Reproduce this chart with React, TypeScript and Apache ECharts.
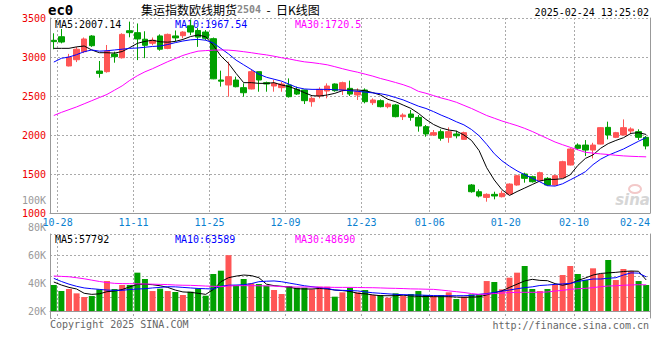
import React, { useEffect, useRef } from 'react';
import * as echarts from 'echarts';

const dates = [
  '10-28','10-29','10-30','10-31','11-01','11-04','11-05','11-06','11-07','11-08',
  '11-11','11-12','11-13','11-14','11-15','11-18','11-19','11-20','11-21','11-22',
  '11-25','11-26','11-27','11-28','11-29','12-02','12-03','12-04','12-05','12-06',
  '12-09','12-10','12-11','12-12','12-13','12-16','12-17','12-18','12-19','12-20',
  '12-23','12-24','12-25','12-26','12-27','12-30','12-31','01-02','01-03',
  '01-06','01-07','01-08','01-09','01-10','01-13','01-14','01-15','01-16','01-17',
  '01-20','01-21','01-22','01-23','01-24','01-27','02-05','02-06','02-07',
  '02-10','02-11','02-12','02-13','02-14','02-17','02-18','02-19','02-20','02-21',
  '02-24'
];
const labeledDates = ['10-28','11-11','11-25','12-09','12-23','01-06','01-20','02-10','02-24'];

const opens = [
  3214,3260,2885,2965,3068,3269,2820,2812,3038,2990,
  3337,3312,3228,3176,3270,3110,3270,3273,3400,3340,
  3320,3235,2705,2641,2705,2607,2590,2812,2671,2628,
  2607,2641,2585,2577,2427,2500,2564,2654,2577,2598,
  2513,2577,2414,2440,2363,2385,2235,2269,2226,2107,
  2000,2043,1970,2013,1944,1359,1273,1200,1239,1209,
  1243,1359,1500,1466,1414,1444,1359,1453,1615,1871,
  1871,1807,1884,2098,1970,2000,2051,2043,1970
];
const closes = [
  3197,3192,2996,3100,3231,3145,2790,3077,3004,3290,
  3312,3231,3150,3215,3100,3290,3245,3320,3320,3255,
  3240,2720,2690,2748,2619,2542,2812,2705,2654,2662,
  2654,2491,2525,2440,2470,2585,2628,2568,2671,2525,
  2555,2427,2449,2363,2397,2235,2256,2226,2115,2013,
  2030,1957,2043,1990,2030,1273,1218,1239,1218,1252,
  1371,1478,1444,1401,1517,1359,1478,1658,1820,1829,
  1807,1871,2094,2000,2030,2094,2077,1970,1859
];
const lows = [
  3099,3175,2880,2935,3050,3130,2735,2799,2927,2980,
  3253,2960,2985,3150,3080,3100,3200,3240,3280,3130,
  3215,2715,2620,2491,2611,2491,2585,2555,2555,2555,
  2555,2480,2513,2397,2363,2470,2470,2555,2513,2500,
  2449,2406,2385,2354,2342,2226,2192,2183,2043,1978,
  1987,1927,1901,1957,1940,1260,1200,1145,1175,1200,
  1240,1350,1389,1390,1410,1350,1355,1450,1610,1807,
  1730,1700,1880,1944,1960,2000,2021,1936,1816
];
const highs = [
  3304,3359,3040,3130,3250,3280,2949,3154,3068,3304,
  3453,3430,3330,3250,3290,3300,3340,3330,3480,3370,
  3345,3250,2825,2940,2748,2662,2842,2812,2684,2705,
  2680,2726,2620,2580,2491,2611,2662,2662,2684,2697,
  2598,2598,2470,2457,2414,2397,2278,2320,2256,2128,
  2064,2073,2098,2055,2043,1371,1303,1252,1273,1286,
  1380,1490,1517,1478,1530,1460,1490,1670,1830,1893,
  1935,1900,2100,2171,2040,2200,2098,2073,1987
];
const ma5 = [
  3111,3111,3111,3130,3141,3090,3055,3055,3050,3070,
  3120,3175,3200,3215,3195,3190,3200,3225,3262,3282,
  3260,3150,3013,2919,2790,2671,2671,2662,2662,2671,
  2641,2620,2585,2543,2504,2500,2513,2534,2568,2577,
  2577,2568,2543,2513,2457,2427,2384,2342,2278,2200,
  2135,2090,2064,2050,2000,1930,1800,1580,1423,1300,
  1225,1275,1320,1365,1410,1431,1431,1440,1490,1610,
  1700,1745,1830,1890,1930,1965,2021,2030,2007
];
const ma10 = [
  2935,2983,3000,3030,3068,3090,3075,3080,3090,3100,
  3111,3115,3125,3135,3141,3160,3184,3205,3220,3226,
  3215,3180,3110,3040,2960,2900,2840,2780,2740,2715,
  2690,2650,2610,2590,2585,2585,2585,2580,2577,2568,
  2560,2550,2540,2530,2510,2480,2450,2410,2370,2340,
  2300,2255,2215,2170,2130,2070,1990,1880,1760,1670,
  1600,1540,1490,1445,1400,1350,1345,1375,1425,1475,
  1530,1620,1690,1740,1780,1820,1870,1920,1967
];
const ma30 = [
  2250,2290,2325,2360,2400,2440,2480,2520,2575,2630,
  2700,2760,2810,2850,2895,2940,2980,3020,3050,3075,
  3082,3088,3090,3088,3080,3068,3055,3040,3027,3010,
  2990,2975,2955,2938,2928,2915,2900,2876,2850,2826,
  2805,2780,2755,2725,2700,2673,2645,2610,2560,2535,
  2505,2475,2450,2420,2380,2340,2295,2250,2215,2180,
  2150,2120,2085,2045,2000,1955,1910,1875,1842,1810,
  1778,1768,1758,1750,1740,1732,1727,1723,1720
];
// volume, thousands of lots
const volumesK = [
  48.4,37.2,41,32.9,26,27.9,40.3,55.8,41,48.4,
  48.4,71.4,59.6,37.2,41.6,37.2,35.4,29.8,36,42.2,
  28.5,68.9,75.1,104,48.4,59.6,51.5,50.3,47.2,39.1,
  31.7,46.5,43.4,43.4,40.3,45.3,45.3,26.7,34.8,43.4,
  34.8,39.1,29.8,29.8,24.8,32.9,27.9,31.7,37.2,29.8,
  28.5,29.8,34.8,22.3,26.7,31,31,55.8,54,40.3,
  62.1,71.4,83.8,41,37.2,41,49.6,67,83.8,68.9,
  57.7,79.5,68.9,95,57.7,78.2,74.5,55.8,48.4
];
const volMa5K = [
  54,48.4,44,41,33,31,32,36,37.2,40,
  45,49.6,50,49,47,44,39,35.5,34.8,33,
  31,40,54.6,62,65,67,66,62,50,47.2,
  46,44.5,41.5,41,41,42,41,39.1,38,36.5,
  33,32,30,28.5,28.5,28.5,29.5,28,27.5,27,
  26.7,26.7,26.7,26,25.5,26,26.5,30,34,37.5,
  44,50,56,59,57,56.5,51,48,51,57,
  61.5,67,70,71,72,73.5,74.5,74,57.8
];
const volMa10K = [
  60.8,55,50,46,43,41.5,40.3,39,38.5,38.5,
  40,41,41.5,43,44,45.3,45,44,43,42,
  41.5,41,46,48,48.4,49,51,54.6,55.5,56,
  54.5,52,49.6,47,45.3,43.5,42,39.1,38.5,38,
  37.5,35.5,34,33,32,31,30.5,30,29.8,29.3,
  28.8,28.5,28.5,28.5,28.5,29,31,32.5,34.5,37,
  39.1,41.5,43.5,45,47.5,48.4,49.6,50.5,51.5,55,
  57.5,59.6,59.6,61,62,67,71,70.5,63.6
];
const volMa30K = [
  65.2,64.5,63.8,62,60,57.5,55,53,51.5,51,
  50.9,50.5,50.3,50,49.6,49.2,48.4,48,47.8,47.2,
  46.5,46,45.3,46.5,47.2,47.2,47.2,47,46.8,46.5,
  45.3,45,44.7,44.7,44.7,44.5,44.3,44,44,44,
  43.8,43.5,43.4,43,42.5,42.2,41.8,41.2,41,40.6,
  40.3,39,37.5,36,34.5,32.5,31,31.5,32.5,33.5,
  34.2,34.8,34.8,34.8,34.8,35.5,37.2,38.5,40.3,41.5,
  42.2,43.5,45.3,46.5,47,48,48.5,49,48.7
];

const titleName = '集运指数欧线期货';
const contractCode = '2504';
const titleTail = '  -  日K线图';
const symbolText = 'ec0';
const timeText = '2025-02-24 13:25:02';
const maTexts = ['MA5:2007.14', 'MA10:1967.54', 'MA30:1720.5'];
const volMaTexts = ['MA5:57792', 'MA10:63589', 'MA30:48690'];
const copyrightText = 'Copyright 2025 SINA.COM';
const urlText = 'http://finance.sina.com.cn';

const RED = '#ff5555';
const GREEN = '#00a000';
const MONO = 'DejaVu Sans Mono, Liberation Mono, monospace';
const GRID_LINE = { color: '#aaa', type: [2, 2] as any, width: 1 };
const FRAME = { color: '#999', width: 1 };

const boundaryLabels = ['', ...dates];
const isBoundary = (_i: number, v: string) => labeledDates.includes(v);

function buildOption(): any {
  const lineSeries = (data: number[], color: string, xi: number, yi: number) => ({
    type: 'line', data, xAxisIndex: xi, yAxisIndex: yi, symbol: 'none', silent: true,
    lineStyle: { width: 1, color }, z: 5,
  });
  const txt = (x: number, y: number, text: string, fill: string, size = 10, align = 'left', extra: any = {}) => ({
    type: 'text', x, y, silent: true,
    style: { text, fill, font: `${size}px ${MONO}`, align, verticalAlign: 'middle', ...extra },
  });
  return {
    animation: false,
    backgroundColor: '#fff',
    grid: [
      { left: 50, top: 18, width: 600, height: 195 },
      { left: 50, top: 234, width: 600, height: 84 },
      { left: 50, top: 200, width: 600, height: 111 },
    ],
    xAxis: [
      { type: 'category', gridIndex: 0, data: dates, boundaryGap: true,
        axisLine: { lineStyle: FRAME }, axisTick: { show: false }, axisLabel: { show: false }, splitLine: { show: false } },
      { type: 'category', gridIndex: 0, data: boundaryLabels, boundaryGap: false, position: 'bottom',
        axisLine: { show: false }, axisTick: { show: false },
        axisLabel: { interval: isBoundary, color: '#0a7fd0', fontFamily: MONO, fontSize: 10, margin: 4, alignMaxLabel: 'right' },
        splitLine: { show: true, interval: isBoundary, lineStyle: GRID_LINE } },
      { type: 'category', gridIndex: 1, data: dates, boundaryGap: true,
        axisLine: { lineStyle: FRAME }, axisTick: { show: false }, axisLabel: { show: false }, splitLine: { show: false } },
      { type: 'category', gridIndex: 1, data: boundaryLabels, boundaryGap: false,
        axisLine: { show: false }, axisTick: { show: false }, axisLabel: { show: false },
        splitLine: { show: true, interval: isBoundary, lineStyle: GRID_LINE } },
      { type: 'value', gridIndex: 2, min: 0, max: 1, show: false },
    ],
    yAxis: [
      { type: 'value', gridIndex: 0, min: 1000, max: 3500, interval: 500, position: 'left',
        axisLine: { show: true, lineStyle: FRAME }, axisTick: { show: false },
        axisLabel: { color: '#ee0000', fontFamily: MONO, fontSize: 10, margin: 4, padding: [0, 0, 4, 0],
          formatter: (v: number) => String(v) },
        splitLine: { show: true, lineStyle: GRID_LINE } },
      { type: 'value', gridIndex: 0, min: 1000, max: 3500, position: 'right',
        axisLine: { show: true, lineStyle: FRAME }, axisTick: { show: false }, axisLabel: { show: false }, splitLine: { show: false } },
      { type: 'value', gridIndex: 1, min: -13, max: 143.4, position: 'left',
        axisLine: { show: true, lineStyle: FRAME }, axisTick: { show: false }, axisLabel: { show: false }, splitLine: { show: false } },
      { type: 'value', gridIndex: 1, min: 0, max: 4, interval: 1, position: 'left',
        axisLine: { show: false }, axisTick: { show: false }, axisLabel: { show: false },
        splitLine: { show: true, lineStyle: GRID_LINE } },
      { type: 'value', gridIndex: 1, min: 0, max: 4, position: 'right',
        axisLine: { show: true, lineStyle: FRAME }, axisTick: { show: false }, axisLabel: { show: false }, splitLine: { show: false } },
      { type: 'value', gridIndex: 2, min: 20, max: 100, interval: 20, position: 'left',
        axisLine: { show: false }, axisTick: { show: false }, splitLine: { show: false },
        axisLabel: { color: '#999', fontFamily: MONO, fontSize: 10, margin: 4, formatter: (v: number) => `${v}K` } },
    ],
    series: [
      { type: 'candlestick', xAxisIndex: 0, yAxisIndex: 0, barWidth: 6, silent: true,
        data: opens.map((o, i) => [o, closes[i], lows[i], highs[i]]),
        itemStyle: { color: RED, color0: GREEN, borderColor: RED, borderColor0: GREEN, borderWidth: 1 } },
      lineSeries(ma5, '#000000', 0, 0),
      lineSeries(ma10, '#0000ff', 0, 0),
      lineSeries(ma30, '#ff00ff', 0, 0),
      { type: 'bar', xAxisIndex: 2, yAxisIndex: 2, barWidth: 6, silent: true,
        data: volumesK.map((v, i) => ({ value: v, itemStyle: { color: closes[i] >= opens[i] ? RED : GREEN } })) },
      lineSeries(volMa5K, '#000000', 2, 2),
      lineSeries(volMa10K, '#0000ff', 2, 2),
      lineSeries(volMa30K, '#ff00ff', 2, 2),
    ],
    graphic: [
      { type: 'text', x: 48, y: 10, silent: true,
        style: { text: symbolText, fill: '#000', font: `bold 14px ${MONO}`, align: 'left', verticalAlign: 'middle' } },
      { type: 'text', x: 141, y: 9, silent: true,
        style: {
          text: `{a|${titleName}}{b|${contractCode}}{a|${titleTail}}`,
          align: 'left', verticalAlign: 'middle',
          rich: {
            a: { fill: '#000', font: '12px "Noto Sans CJK SC", sans-serif', lineHeight: 14 },
            b: { fill: '#888', font: `bold 10px ${MONO}`, lineHeight: 14 },
          },
        } },
      txt(649, 12, timeText, '#000', 10, 'right'),
      txt(55, 24, maTexts[0], '#000'),
      txt(175, 24, maTexts[1], '#0000ff'),
      txt(295, 24, maTexts[2], '#ff00ff'),
      txt(55, 239, volMaTexts[0], '#000'),
      txt(175, 239, volMaTexts[1], '#0000ff'),
      txt(295, 239, volMaTexts[2], '#ff00ff'),
      txt(50, 324, copyrightText, '#666'),
      txt(649, 325, urlText, '#666', 10, 'right'),
      { type: 'ellipse', silent: true, shape: { cx: 635, cy: 189, rx: 6, ry: 4 },
        style: { fill: 'none', stroke: '#f3c9c9', lineWidth: 2 } },
      { type: 'text', x: 650, y: 200, silent: true,
        style: { text: 'sina', fill: '#d6d6d6', font: 'italic bold 15px "DejaVu Sans", sans-serif', align: 'right', verticalAlign: 'middle' } },
    ],
  };
}

export default function App() {
  const ref = useRef<HTMLDivElement>(null);
  useEffect(() => {
    const chart = echarts.init(ref.current!, null, { renderer: 'svg' });
    chart.setOption(buildOption());
    return () => chart.dispose();
  }, []);
  return (
    <div
      ref={ref}
      style={{ position: 'fixed', left: 0, top: 0, width: 660, height: 360, background: '#fff' }}
    />
  );
}
